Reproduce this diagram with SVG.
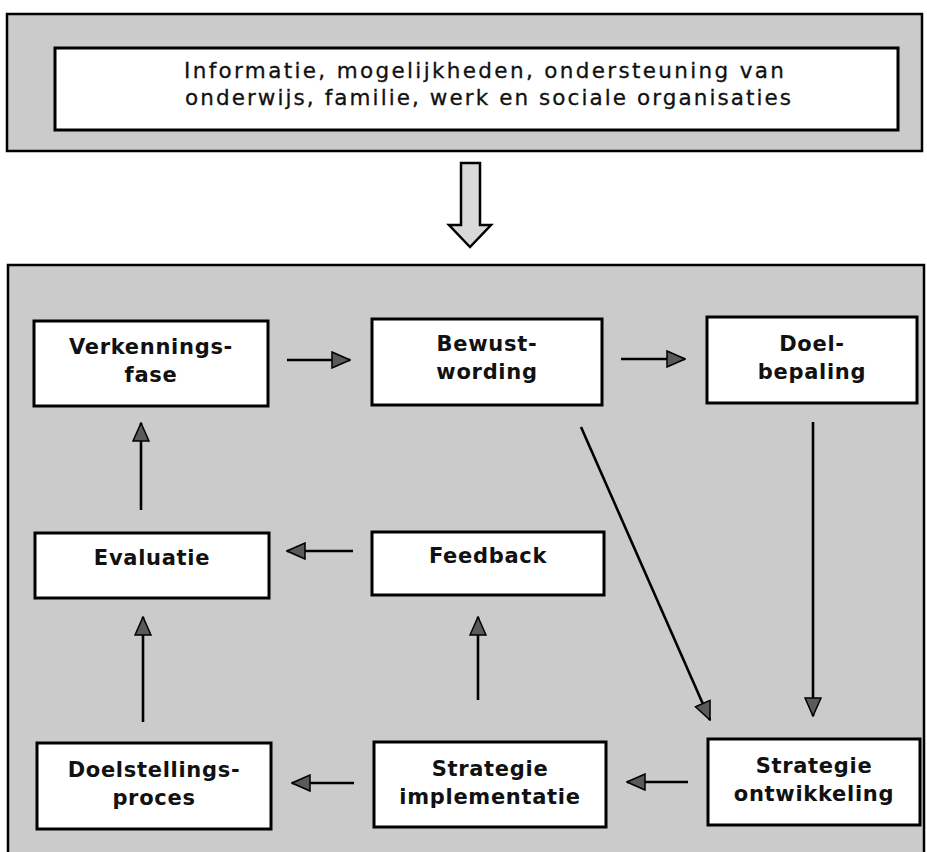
<svg xmlns="http://www.w3.org/2000/svg" width="927" height="852" viewBox="0 0 927 852">
  <style>
    .panel { fill: #cbcbcb; stroke: #000; stroke-width: 2.5; }
    .box rect { fill: #fff; stroke: #000; stroke-width: 3; }
    .lbl { font-family: "DejaVu Sans", Verdana, sans-serif; font-weight: bold; font-size: 21px; fill: #111; text-anchor: middle; letter-spacing: 0.7px; }
    .top { font-family: "DejaVu Sans", Verdana, sans-serif; font-size: 21.5px; fill: #111; text-anchor: middle; stroke: #111; stroke-width: 0.3; }
    .conn line { stroke: #000; stroke-width: 2.6; marker-end: url(#head); }
  </style>
  <defs>
    <marker id="head" viewBox="0 0 20 18" refX="19" refY="9" markerWidth="20" markerHeight="18" markerUnits="userSpaceOnUse" orient="auto">
      <path d="M1,1 L19,9 L1,17 z" fill="#5a5a5a" stroke="#000" stroke-width="1.5" stroke-linejoin="miter"/>
    </marker>
  </defs>

  <rect width="927" height="852" fill="#fff"/>

  <!-- top panel -->
  <g id="info">
    <rect class="panel" x="7" y="14" width="915" height="137"/>
    <rect x="55" y="48" width="843" height="82" fill="#fff" stroke="#000" stroke-width="3"/>
    <text class="top" x="484" y="78" textLength="600" lengthAdjust="spacing">Informatie, mogelijkheden, ondersteuning van</text>
    <text class="top" x="488" y="105" textLength="606" lengthAdjust="spacing">onderwijs, familie, werk en sociale organisaties</text>
  </g>

  <!-- hollow arrow -->
  <g id="bigArrow">
    <polygon points="461,163 480,163 480,225 491,225 470,247 449,225 461,225" fill="#d9d9d9" stroke="#000" stroke-width="2.5" stroke-linejoin="miter"/>
  </g>

  <!-- lower panel -->
  <rect class="panel" x="8" y="265" width="916" height="600"/>

  <g id="verkenningsfase" class="box">
    <rect x="34" y="321" width="234" height="85"/>
    <text class="lbl" x="151" y="354">Verkennings-</text>
    <text class="lbl" x="151" y="382">fase</text>
  </g>
  <g id="bewustwording" class="box">
    <rect x="372" y="319" width="230" height="86"/>
    <text class="lbl" x="487" y="351">Bewust-</text>
    <text class="lbl" x="487" y="379">wording</text>
  </g>
  <g id="doelbepaling" class="box">
    <rect x="707" y="317" width="210" height="86"/>
    <text class="lbl" x="812" y="351">Doel-</text>
    <text class="lbl" x="812" y="379">bepaling</text>
  </g>
  <g id="evaluatie" class="box">
    <rect x="35" y="533" width="234" height="65"/>
    <text class="lbl" x="152" y="565">Evaluatie</text>
  </g>
  <g id="feedback" class="box">
    <rect x="372" y="532" width="232" height="63"/>
    <text class="lbl" x="488" y="563">Feedback</text>
  </g>
  <g id="doelstellingsproces" class="box">
    <rect x="37" y="743" width="234" height="86"/>
    <text class="lbl" x="154" y="777">Doelstellings-</text>
    <text class="lbl" x="154" y="805">proces</text>
  </g>
  <g id="strategieImplementatie" class="box">
    <rect x="374" y="742" width="232" height="85"/>
    <text class="lbl" x="490" y="776">Strategie</text>
    <text class="lbl" x="490" y="804">implementatie</text>
  </g>
  <g id="strategieOntwikkeling" class="box">
    <rect x="708" y="739" width="212" height="86"/>
    <text class="lbl" x="814" y="773">Strategie</text>
    <text class="lbl" x="814" y="801">ontwikkeling</text>
  </g>

  <g id="connectors" class="conn">
    <line x1="287" y1="360" x2="350" y2="360"/>
    <line x1="621" y1="359" x2="685" y2="359"/>
    <line x1="813" y1="422" x2="813" y2="716"/>
    <line x1="581" y1="427" x2="710" y2="720"/>
    <line x1="688" y1="782" x2="627" y2="782"/>
    <line x1="354" y1="783" x2="292" y2="783"/>
    <line x1="478" y1="700" x2="478" y2="617"/>
    <line x1="143" y1="722" x2="143" y2="617"/>
    <line x1="353" y1="551" x2="287" y2="551"/>
    <line x1="141" y1="510" x2="141" y2="423"/>
  </g>
</svg>
